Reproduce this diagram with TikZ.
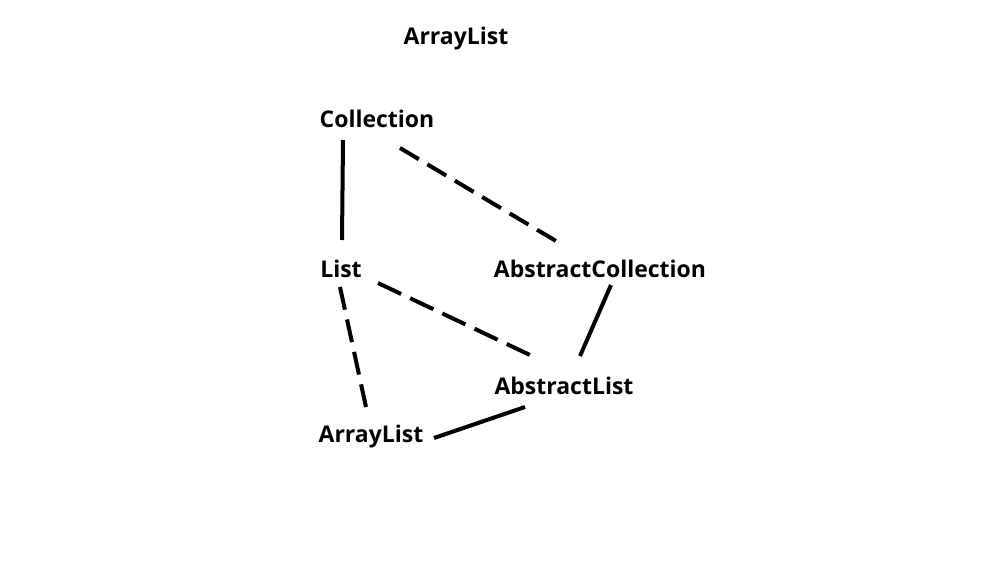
\documentclass[tikz,border=0pt]{standalone}
\usepackage{fontspec}
\setmainfont{Open Sans}
\begin{document}
\begin{tikzpicture}[x=1pt,y=-1pt,
  lbl/.style={font=\bfseries\fontsize{23}{26}\selectfont, inner sep=0pt},
  conn/.style={line width=4pt},
  dconn/.style={line width=4pt, dash pattern=on #1 off 10pt},
  dconn/.default=22pt]
\useasboundingbox (0,0) rectangle (990,580);
\node[lbl] (title) at (456,39) {ArrayList};
\node[lbl] (coll) at (377,119) {Collection};
\node[lbl] (list) at (341,269) {List};
\node[lbl] (acoll) at (600,269) {AbstractCollection};
\node[lbl] (alist) at (564,386) {AbstractList};
\node[lbl] (arr) at (371,437) {ArrayList};
\draw[conn] ([shift={(-34,21)}]coll.center) -- ([shift={(1,-29)}]list.center);
\draw[dconn=21.9pt] ([shift={(23,29)}]coll.center) -- ([shift={(-44,-28)}]acoll.center);
\draw[dconn=25.6pt] ([shift={(37,14)}]list.center) -- ([shift={(-34,-31)}]alist.center);
\draw[dconn=23.2pt] ([shift={(-1,18)}]list.center) -- ([shift={(-5,-30)}]arr.center);
\draw[conn] ([shift={(11,16)}]acoll.center) -- ([shift={(16,-30)}]alist.center);
\draw[conn] ([shift={(-39,21)}]alist.center) -- ([shift={(63,1)}]arr.center);
\end{tikzpicture}
\end{document}
